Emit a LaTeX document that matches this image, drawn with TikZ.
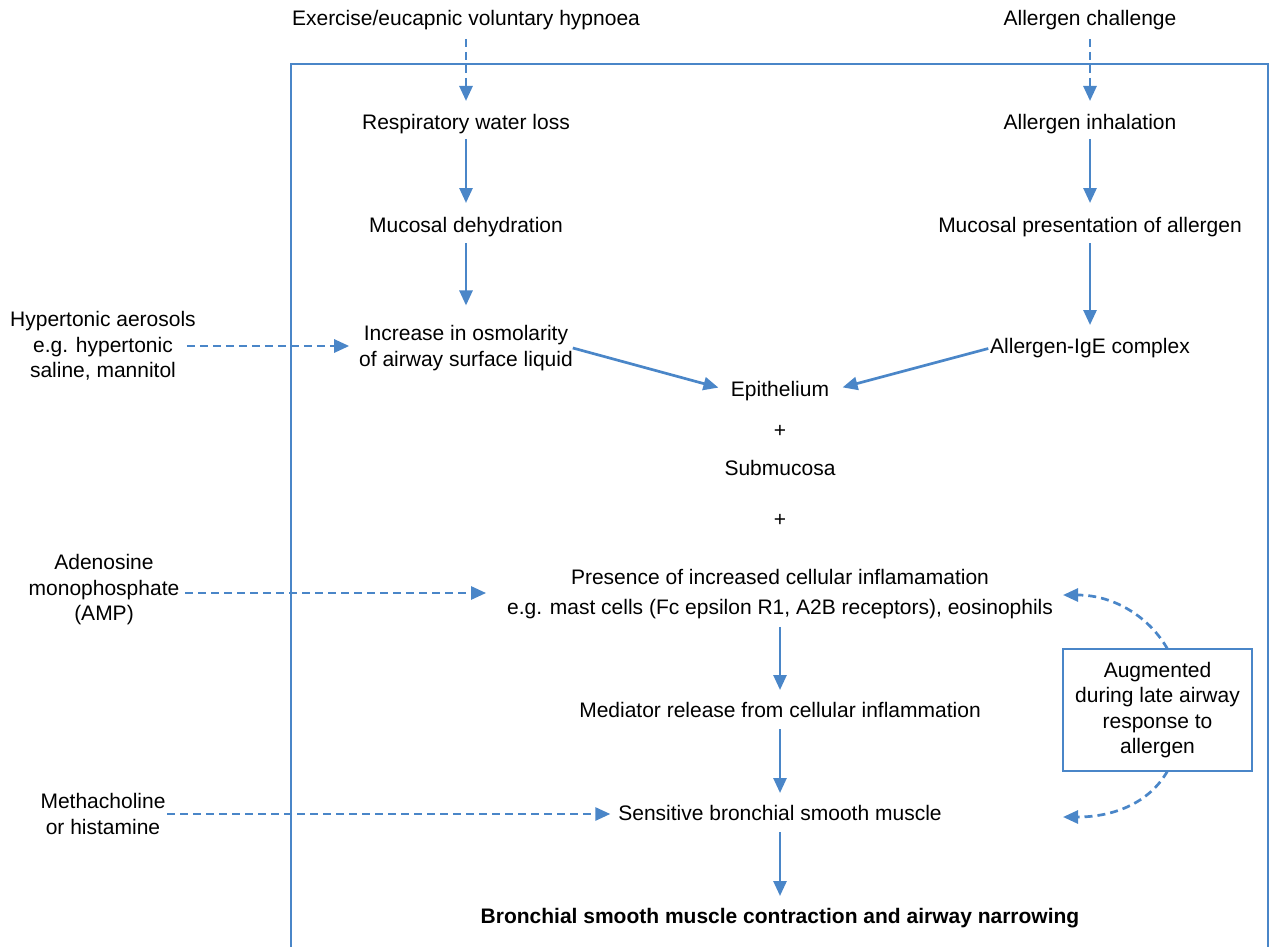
\documentclass[tikz,border=0pt]{standalone}
\usepackage{fontspec}
\setmainfont{Liberation Sans}
\usetikzlibrary{arrows.meta,calc}
\definecolor{lblue}{RGB}{74,134,200}
\begin{document}
\begin{tikzpicture}[x=1pt,y=-1pt,
  every node/.style={font=\fontsize{21}{25.5}\selectfont, inner sep=0pt, outer sep=0pt, align=center},
  one/.style={text height=15pt, text depth=5pt},
  flow/.style={draw=lblue, line width=2.7pt, -{Triangle[length=15pt,width=13pt]}, shorten <=6pt, shorten >=13pt},
  dflow/.style={flow, dash pattern=on 8pt off 5pt},
  frame/.style={draw=lblue, line width=2.7pt},
]
\useasboundingbox (0,0) rectangle (1271,947);

% outer frame
\draw[frame] (291,947) -- (291,64) -- (1268,64) -- (1268,947);

% top inputs
\node[one] (ex)  at (466,21)  {Exercise/eucapnic voluntary hypnoea};
\node[one] (ach) at (1090,21) {Allergen challenge};

% left column
\node[one] (resp) at (466,125) {Respiratory water loss};
\node[one] (mdeh) at (466,227) {Mucosal dehydration};
\node (osm) at (466,348) {Increase in osmolarity\\of airway surface liquid};

% right column
\node[one] (ainh)  at (1090,125) {Allergen inhalation};
\node[one] (mpres) at (1090,227) {Mucosal presentation of allergen};
\node[one] (ige)   at (1090,348) {Allergen-IgE complex};

% centre column
\node[one] (epi)   at (780,391) {Epithelium};
\node[one] (plus1) at (780,432) {+};
\node[one] (sub)   at (780,470) {Submucosa};
\node[one] (plus2) at (780,521) {+};
\node[font=\fontsize{21}{30}\selectfont] (pres) at (780,594) {Presence of increased cellular inflamamation\\e.g. mast cells (Fc epsilon R1, A2B receptors), eosinophils};
\node[one] (med)  at (780,712) {Mediator release from cellular inflammation};
\node[one] (sens) at (780,815) {Sensitive bronchial smooth muscle};
\node[one, font=\fontsize{21}{25.5}\selectfont\bfseries] (bold) at (780,918) {Bronchial smooth muscle contraction and airway narrowing};

% left side stimuli
\node (hyp)  at (103,346) {Hypertonic aerosols\\e.g. hypertonic\\saline, mannitol};
\node (ade)  at (104,590) {Adenosine\\monophosphate\\(AMP)};
\node (meth) at (103,814) {Methacholine\\or histamine};

% augmented box
\node[draw=lblue, line width=2.7pt, minimum width=189pt, minimum height=122pt] (aug) at (1157.5,710)
  {Augmented\\during late airway\\response to\\allergen};

% arrows
\draw[dflow, shorten <=8pt, shorten >=14pt] (ex.south) -- (resp.north);
\draw[dflow, shorten <=8pt, shorten >=14pt] (ach.south) -- (ainh.north);

\draw[flow, shorten <=4pt, shorten >=14pt] (resp.south) -- (mdeh.north);
\draw[flow, shorten <=6pt, shorten >=20pt] (mdeh.south) -- (osm.north);
\draw[flow, shorten <=4pt, shorten >=14pt] (ainh.south) -- (mpres.north);
\draw[flow, shorten <=6pt, shorten >=13pt] (mpres.south) -- (ige.north);

\draw[flow, shorten <=0pt, shorten >=13pt] (osm.east) -- (epi.west);
\draw[flow, shorten <=2pt, shorten >=14pt] (ige.west) -- (epi.east);

\draw[flow, shorten <=8pt, shorten >=12pt] (pres.south) -- (med.north);
\draw[flow, shorten <=7pt, shorten >=12pt] (med.south) -- (sens.north);
\draw[flow, shorten <=7pt, shorten >=12pt] (sens.south) -- (bold.north);

\draw[dflow, shorten <=0pt, shorten >=10pt] ([xshift=-9pt]hyp.east) -- (hyp.east -| osm.west);
\draw[dflow, shorten <=0pt, shorten >=21pt] ($(ade.east)+(6,3)$) -- ($(ade.east -| pres.west)+(0,3)$);
\draw[dflow, shorten <=2pt, shorten >=8pt] (meth.east) -- (meth.east -| sens.west);

\coordinate (c1) at (1063,595);
\coordinate (c2) at (1063,817);
\draw[dflow, shorten <=0pt, shorten >=0pt] ([xshift=10pt]aug.north) .. controls (1150,618) and (1115,595) .. (c1);
\draw[dflow, shorten <=0pt, shorten >=0pt] ([xshift=10pt]aug.south) .. controls (1150,802) and (1115,817) .. (c2);
\end{tikzpicture}
\end{document}
